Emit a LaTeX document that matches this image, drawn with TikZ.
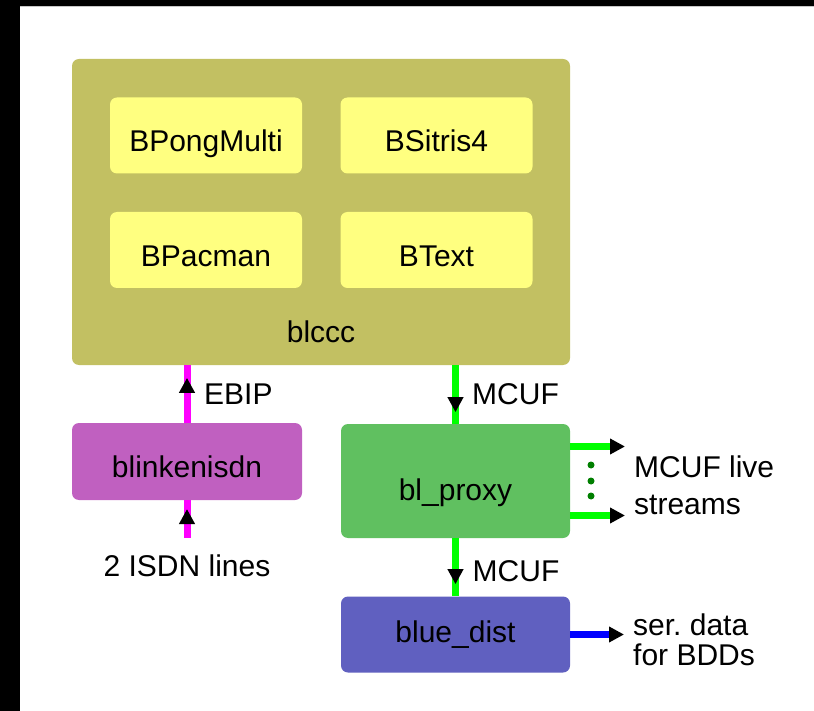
\documentclass[tikz,border=0pt]{standalone}
\usepackage{fontspec}
\setmainfont{Liberation Sans}
\usetikzlibrary{arrows.meta,decorations.markings}
\definecolor{olivebox}{HTML}{C2C062}
\definecolor{yellowbox}{HTML}{FFFF80}
\definecolor{magbox}{HTML}{C060C0}
\definecolor{grnbox}{HTML}{60C060}
\definecolor{bluebox}{HTML}{6060C0}
\definecolor{magln}{HTML}{FF00FF}
\definecolor{grnln}{HTML}{00FF00}
\definecolor{blueln}{HTML}{0000FF}
\definecolor{dotgrn}{HTML}{007F00}
\frenchspacing
\begin{document}
\begin{tikzpicture}[x=1pt,y=-1pt,
  box/.style={rounded corners=7pt, inner sep=0pt, font=\fontsize{30}{36}\selectfont, text depth=0pt},
  sub/.style={box, fill=yellowbox, minimum width=192pt, minimum height=76pt, text height=33pt},
  lbl/.style={inner sep=0pt, font=\fontsize{30}{36}\selectfont},
  tipmark/.style={postaction={decorate}, decoration={markings, mark=at position #1 with {\arrow{Triangle[color=black,length=15pt,width=15pt]}}}},
  endtip/.style={-{Triangle[color=black,length=15pt,width=15pt]}},
  magline/.style={draw=magln, line width=7pt},
  grnline/.style={draw=grnln, line width=7pt},
  blueline/.style={draw=blueln, line width=7pt}]
\useasboundingbox (0,0) rectangle (814,711);
\fill[white] (0,0) rectangle (814,711);
\fill[black] (0,0) rectangle (20,711);
\fill[black] (0,0) rectangle (814,6);
\fill[black!22] (20,6) rectangle (814,7.5);

% main container
\node[box, fill=olivebox, minimum width=498pt, minimum height=306pt] (blccc) at (321,212) {};
\node[lbl, anchor=base] (blccctext) at (321,343) {blccc};
\node[sub] (pong) at (206,135.5) {BPongMulti};
\node[sub] (sitris) at (436.5,135.5) {BSitris4};
\node[sub] (pacman) at (206,250) {BPacman};
\node[sub] (btext) at (436.5,250) {BText};

% lower boxes
\node[box, fill=magbox, minimum width=230pt, minimum height=77pt, text height=31pt] (isdn) at (187,461.5) {blinkenisdn};
\node[box, fill=grnbox, minimum width=229pt, minimum height=114pt, text height=38pt] (proxy) at (455.5,481) {bl\_proxy};
\node[box, fill=bluebox, minimum width=229pt, minimum height=76pt, text height=16pt] (dist) at (455.5,634.5) {blue\_dist};

% connectors
\coordinate (isdnin) at (187,538);
\draw[magline, tipmark=29pt] (isdnin) -- (isdnin |- isdn.south);
\draw[magline, tipmark=45pt] (isdn.north) -- (isdn.north |- blccc.south);
\draw[grnline, tipmark=47pt] (proxy.north |- blccc.south) -- (proxy.north);
\draw[grnline, tipmark=46pt] (proxy.south) -- (dist.north);

\coordinate (live1) at (625,446.5);
\coordinate (live2) at (625,515.5);
\coordinate (ser) at (624,634.5);
\draw[grnline, endtip] (proxy.east |- live1) -- (live1);
\draw[grnline, endtip] (proxy.east |- live2) -- (live2);
\draw[blueline, endtip] (dist.east |- ser) -- (ser);

\fill[dotgrn] (591,465) circle (3.5pt);
\fill[dotgrn] (591,481) circle (3.5pt);
\fill[dotgrn] (591,496) circle (3.5pt);

% labels
\node[lbl, anchor=base west] (ebip) at (204,404) {EBIP};
\node[lbl, anchor=base west] (mcuf1) at (472,404) {MCUF};
\node[lbl, anchor=base west] (mcuf2) at (472.5,581) {MCUF};
\node[lbl, anchor=base] (isdnlines) at (187,576) {2 ISDN lines};
\node[lbl, anchor=base west] (livea) at (634,477) {MCUF live};
\node[lbl, anchor=base west] (liveb) at (634,514) {streams};
\node[lbl, anchor=base west] (sera) at (633,635) {ser.\ data};
\node[lbl, anchor=base west] (serb) at (633,665) {for BDDs};
\end{tikzpicture}
\end{document}
